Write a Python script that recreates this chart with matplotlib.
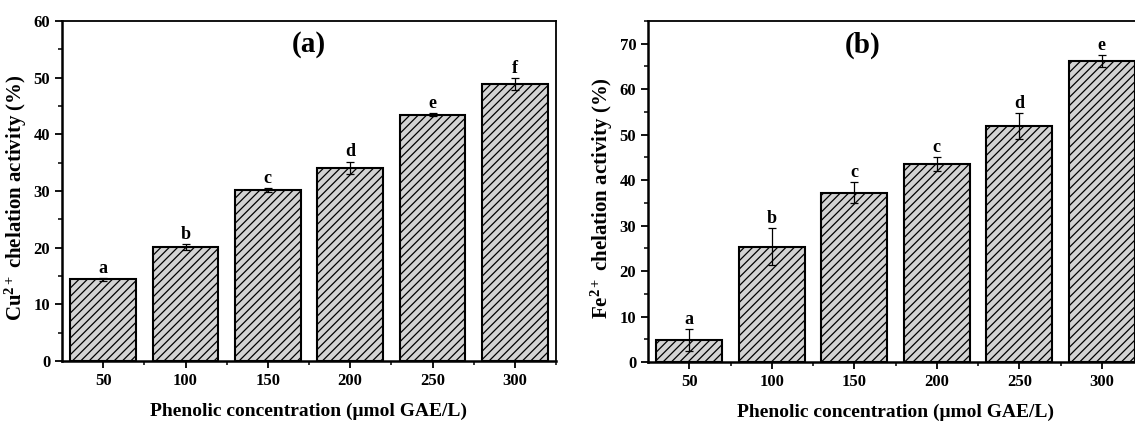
import matplotlib.pyplot as plt
from matplotlib.ticker import MultipleLocator

# font setup, Times-like bold everywhere
plt.rcParams['font.family'] = ['Liberation Serif', 'DejaVu Serif']
plt.rcParams['font.weight'] = 'bold'
plt.rcParams['mathtext.fontset'] = 'custom'
plt.rcParams['mathtext.rm'] = 'Liberation Serif:bold'
plt.rcParams['mathtext.it'] = 'Liberation Serif:bold'
plt.rcParams['mathtext.bf'] = 'Liberation Serif:bold'
plt.rcParams['hatch.linewidth'] = 0.9

#---------------------------------------#
# DATA                                  #
#---------------------------------------#
concentrations = [50, 100, 150, 200, 250, 300]
cu_values = [14.4, 20.1, 30.2, 34.1, 43.5, 48.9]
cu_errors = [0.2, 0.5, 0.3, 1.1, 0.2, 1.1]
cu_letters = ['a', 'b', 'c', 'd', 'e', 'f']
fe_values = [4.8, 25.4, 37.2, 43.5, 51.9, 66.2]
fe_errors = [2.4, 4.0, 2.3, 1.6, 2.8, 1.3]
fe_letters = ['a', 'b', 'c', 'c', 'd', 'e']
#---------------------------------------#

W, H = 1135, 421
fig = plt.figure(figsize=(W / 100, H / 100), dpi=100)

# axes boxes in pixels: left, right, top, bottom
ax_a = fig.add_axes([62 / W, 1 - 361 / H, (556 - 62) / W, (361 - 21) / H])
ax_b = fig.add_axes([648 / W, 1 - 362 / H, (1143 - 648) / W, (362 - 21) / H])


def draw_panel(ax, values, errors, letters, ylim, ylabel, tag, tag_x):
    ax.bar(concentrations, values, width=40, color='#d3d3d3', edgecolor='black',
           linewidth=1.5, hatch='////', zorder=2)
    ax.errorbar(concentrations, values, yerr=errors, fmt='none', ecolor='black',
                elinewidth=0.9, capsize=3.2, capthick=0.9, zorder=3)
    # significance letters above the error bars
    for x, v, e, l in zip(concentrations, values, errors, letters):
        ax.text(x, v + e + 0.2, l, ha='center', va='bottom', fontsize=13,
                fontweight='bold')
    ax.set_xlim(25, 325)
    ax.set_ylim(*ylim)
    ax.set_xticks(concentrations)
    ax.set_xticks([75, 125, 175, 225, 275, 325], minor=True)
    ax.yaxis.set_major_locator(MultipleLocator(10))
    ax.yaxis.set_minor_locator(MultipleLocator(5))
    ax.tick_params(which='major', direction='out', length=5, width=1.3,
                   labelsize=12)
    ax.tick_params(which='minor', direction='out', length=3, width=1.1)
    for s in ax.spines.values():
        s.set_linewidth(1.3)
    ax.spines['left'].set_linewidth(1.8)
    ax.spines['bottom'].set_linewidth(1.8)
    ax.set_xlabel('Phenolic concentration (\u03bcmol GAE/L)', fontsize=14,
                  fontweight='bold', labelpad=10)
    ax.set_ylabel(ylabel, fontsize=15, fontweight='bold')
    ax.yaxis.set_label_coords(-0.066, 0.48)
    ax.text(tag_x, 0.93, tag, transform=ax.transAxes, ha='center',
            va='center', fontsize=21, fontweight='bold')


draw_panel(ax_a, cu_values, cu_errors, cu_letters, (0, 60),
           'Cu$^{2+}$ chelation activity (%)', '(a)', 0.50)
draw_panel(ax_b, fe_values, fe_errors, fe_letters, (0, 75),
           'Fe$^{2+}$ chelation activity (%)', '(b)', 0.434)

fig.savefig('out.png', dpi=100)
